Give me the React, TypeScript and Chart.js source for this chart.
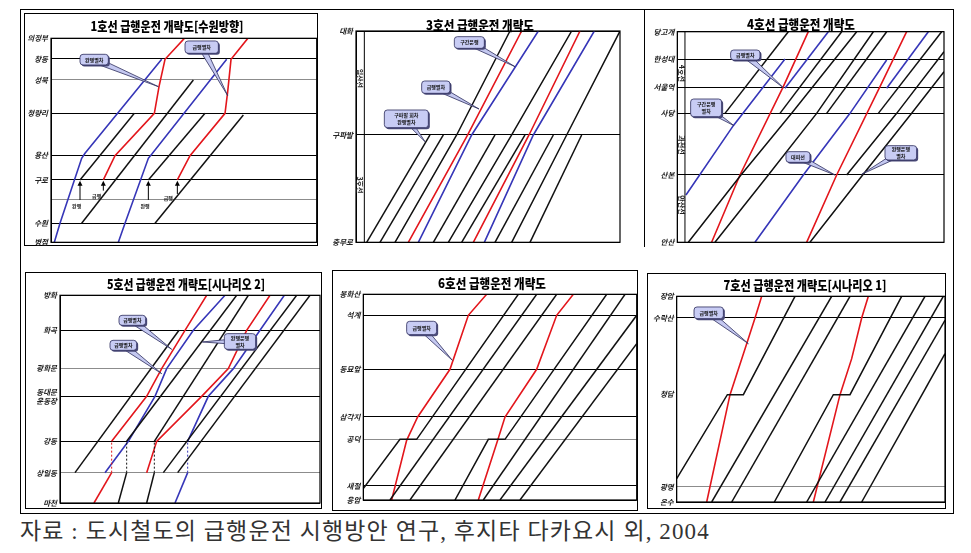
import { useEffect, useRef } from 'react';
import { Chart, registerables } from 'chart.js';
Chart.register(...registerables);

type Pt = [number, number];
const FONT = '"Noto Sans CJK KR", "Noto Sans", sans-serif';
const RED = '#e3161c';
const BLUE = '#3636b8';
const BLACK = '#111111';

// ---------------- 1호선 ----------------
const l1Stations: (string | string[])[] = ['의정부', '창동', '성북', '청량리', '용산', '구로', '', '수원', '병점'];
const l1StationDist = [100, 162, 225, 325, 452, 525, 585, 655, 712];
const l1LineKind = ['k', 'k', 'g', 'k', 'k', 'k', 'g', 'k', 'k'];
const l1Local: Pt[][] = [
  [[195, 525], [358, 325]],
  [[200, 655], [535, 225]],
  [[400, 525], [570, 325]],
  [[420, 655], [685, 330]],
];
const l1Through: Pt[][] = [
  [[118, 712], [135, 655], [200, 460], [210, 445], [440, 163]],
  [[310, 712], [330, 655], [400, 460], [410, 448], [635, 163]],
];
const l1Express: Pt[][] = [
  [[265, 525], [300, 452], [418, 325], [432, 245], [450, 163], [510, 98]],
  [[487, 525], [525, 452], [630, 325], [638, 260], [648, 163], [700, 98]],
];

// ---------------- 3호선 ----------------
const l3Stations: (string | string[])[] = ['대화', '구파발', '충무로'];
const l3StationDist = [78, 390, 712];
const l3LineKind = ['k', 'k', 'k'];
const l3Local: Pt[][] = [
  [[125, 712], [315, 390]],
  [[165, 712], [355, 390]],
  [[210, 712], [395, 390], [555, 78]],
  [[325, 712], [510, 390]],
  [[370, 712], [560, 390], [740, 78]],
  [[410, 712], [600, 390]],
  [[510, 712], [685, 390]],
  [[560, 712], [725, 390], [885, 78]],
  [[615, 712], [770, 390]],
];
const l3Section: Pt[][] = [
  [[280, 712], [440, 390], [640, 78]],
  [[478, 712], [625, 390], [808, 78]],
];
const l3Express: Pt[][] = [
  [[250, 712], [428, 390], [590, 78]],
  [[445, 712], [612, 390], [765, 78]],
];

// ---------------- 4호선 ----------------
const l4Stations: (string | string[])[] = ['당고개', '한성대', '서울역', '사당', '산본', '안산'];
const l4StationDist = [80, 162, 247, 325, 510, 712];
const l4LineKind = ['k', 'k', 'k', 'k', 'k', 'k'];
const l4Local: Pt[][] = [
  [[145, 712], [303, 510], [455, 325], [650, 80]],
  [[225, 712], [385, 510], [530, 325], [700, 80]],
  [[510, 712], [668, 510], [815, 325], [912, 200]],
  [[620, 510], [770, 325], [912, 140]],
  [[255, 325], [445, 80]],
  [[420, 325], [605, 80]],
  [[560, 325], [740, 80]],
  [[715, 325], [905, 80]],
];
const l4Section: Pt[][] = [
  [[138, 570], [280, 362], [435, 162]],
  [[435, 250], [565, 80]],
  [[345, 712], [490, 510], [630, 325], [740, 165]],
  [[740, 250], [865, 80]],
];
const l4Express: Pt[][] = [
  [[215, 712], [300, 510], [430, 245], [505, 80]],
  [[500, 712], [590, 510], [720, 245], [800, 80]],
];

// ---------------- 5호선 ----------------
const l5Stations: (string | string[])[] = ['방화', '화곡', '광화문', ['동대문', '운동장'], '강동', '상일동', '마천'];
const l5StationDist = [100, 205, 320, 403, 538, 632, 723];
const l5LineKind = ['k', 'k', 'g', 'k', 'k', 'g', 'k'];
const l5Local: Pt[][] = [
  [[180, 632], [492, 205]],
  [[310, 723], [335, 632], [335, 538], [665, 100]],
  [[395, 723], [418, 632], [418, 538], [700, 100]],
  [[445, 632], [845, 100]],
  [[488, 632], [885, 100]],
];
const l5Semi: Pt[][] = [
  [[270, 632], [340, 538], [420, 403], [455, 320], [535, 205], [630, 100]],
  [[480, 723], [518, 632], [518, 538], [580, 403], [655, 320], [735, 205], [808, 100]],
];
const l5Express: Pt[][] = [
  [[237, 723], [290, 632], [290, 538], [395, 403], [440, 320], [510, 205], [575, 100]],
  [[395, 632], [425, 538], [560, 403], [640, 320], [695, 205], [765, 100]],
];

// ---------------- 6호선 ----------------
const l6Stations: (string | string[])[] = ['봉화산', '석계', '동묘앞', '삼각지', '공덕', '새절', '응암'];
const l6StationDist = [97, 160, 322, 465, 532, 672, 714];
const l6LineKind = ['k', 'k', 'k', 'k', 'g', 'k', 'k'];
const l6Local: Pt[][] = [
  [[115, 680], [225, 532], [275, 532], [580, 97]],
  [[195, 714], [635, 97]],
  [[255, 714], [695, 97]],
  [[390, 714], [490, 532], [540, 532], [845, 97]],
  [[475, 714], [900, 97]],
  [[525, 714], [935, 160]],
  [[585, 714], [935, 245]],
];
const l6Express: Pt[][] = [
  [[200, 714], [245, 535], [278, 465], [375, 322], [430, 160], [485, 97]],
  [[460, 714], [518, 535], [540, 465], [635, 322], [695, 160], [745, 97]],
];

// ---------------- 7호선 ----------------
const l7Stations: (string | string[])[] = ['장암', '수락산', '청담', '광명', '온수'];
const l7StationDist = [103, 168, 398, 675, 720];
const l7LineKind = ['k', 'k', 'n', 'g', 'k'];
const l7Local: Pt[][] = [
  [[110, 650], [262, 398], [310, 398], [465, 103]],
  [[215, 720], [575, 103]],
  [[275, 720], [630, 103]],
  [[403, 720], [580, 398], [630, 398], [785, 103]],
  [[500, 720], [855, 103]],
  [[555, 720], [910, 103]],
  [[600, 720], [915, 175]],
  [[665, 720], [915, 275]],
];
const l7Express: Pt[][] = [
  [[200, 720], [270, 398], [320, 245], [345, 168], [365, 103]],
  [[520, 720], [600, 398], [635, 290], [665, 168], [685, 103]],
];

// ---------------- panel setup ----------------
interface Callout { lines: string[]; box: [number, number, number, number]; tip: Pt }
interface PanelCfg {
  box: { x: number; y: number; w: number; h: number };
  plot: { l: number; t: number; r: number; b: number };
  xr: [number, number];
  yr: [number, number];
  names: (string | string[])[];
  pos: number[];
  kinds: string[];
  series: { color: string; pts: Pt[]; w: number }[];
  title: { text: string; x: number; y: number; maxW: number };
  callouts: Callout[];
  vlabels: { text: string; x: number; y: number }[];
  inner?: number;
  arrows: { x: number; from: number; to: number; label: string; lx: number; ly: number }[];
}

const mk = (groups: [Pt[][], string][]) =>
  groups.flatMap(([g, c]) => g.map((pts) => ({ color: c, pts, w: c === BLACK ? 1.5 : 1.6 })));

const panels: PanelCfg[] = [
  {
    box: { x: 25, y: 14, w: 296, h: 243 },
    plot: { l: 51, t: 38.3, r: 316.7, b: 242.3 },
    xr: [108, 905], yr: [100, 712],
    names: l1Stations, pos: l1StationDist, kinds: l1LineKind,
    series: mk([[l1Local, BLACK], [l1Through, BLUE], [l1Express, RED]]),
    title: { text: '1호선 급행운전 개략도[수원방향]', x: 167, y: 26, maxW: 153 },
    callouts: [
      { lines: ['완행열차'], box: [195, 148, 280, 180], tip: [430, 245] },
      { lines: ['급행열차'], box: [510, 108, 610, 145], tip: [638, 272] },
    ],
    vlabels: [],
    arrows: [
      { x: 195, from: 585, to: 527, label: '완행', lx: 185, ly: 603 },
      { x: 265, from: 557, to: 527, label: '급행', lx: 245, ly: 573 },
      { x: 400, from: 585, to: 527, label: '완행', lx: 390, ly: 603 },
      { x: 487, from: 567, to: 527, label: '급행', lx: 460, ly: 580 },
    ],
  },
  {
    box: { x: 326, y: 10, w: 298, h: 246 },
    plot: { l: 356, t: 31, r: 620, b: 242.3 },
    xr: [93, 885], yr: [78, 712],
    names: l3Stations, pos: l3StationDist, kinds: l3LineKind,
    series: mk([[l3Local, BLACK], [l3Express, RED], [l3Section, BLUE]]),
    title: { text: '3호선 급행운전 개략도', x: 480, y: 25, maxW: 108 },
    callouts: [
      { lines: ['구간운행'], box: [388, 95, 478, 130], tip: [570, 185] },
      { lines: ['급행열차'], box: [290, 228, 375, 265], tip: [462, 312] },
      { lines: ['구파발 회차', '완행열차'], box: [178, 315, 310, 368], tip: [300, 410] },
    ],
    vlabels: [
      { text: '일산선', x: 105, y: 220 },
      { text: '3호선', x: 105, y: 540 },
    ],
    inner: 118,
    arrows: [],
  },
  {
    box: { x: 645, y: 10, w: 303, h: 246 },
    plot: { l: 677.3, t: 31.7, r: 944, b: 242.3 },
    xr: [112, 912], yr: [80, 712],
    names: l4Stations, pos: l4StationDist, kinds: l4LineKind,
    series: mk([[l4Local, BLACK], [l4Section, BLUE], [l4Express, RED]]),
    title: { text: '4호선 급행운전 개략도', x: 801, y: 24, maxW: 108 },
    callouts: [
      { lines: ['급행열차'], box: [272, 135, 360, 165], tip: [430, 248] },
      { lines: ['구간운행', '열차'], box: [152, 282, 245, 335], tip: [282, 362] },
      { lines: ['대피선'], box: [438, 440, 510, 472], tip: [585, 510] },
      { lines: ['완행운행', '열차'], box: [735, 422, 830, 465], tip: [665, 508] },
    ],
    vlabels: [
      { text: '4호선', x: 124, y: 205 },
      { text: '과천선', x: 124, y: 420 },
      { text: '안산선', x: 124, y: 600 },
    ],
    inner: 135,
    arrows: [],
  },
  {
    box: { x: 26, y: 273, w: 298, h: 244 },
    plot: { l: 60, t: 295.3, r: 320, b: 503 },
    xr: [135, 915], yr: [100, 723],
    names: l5Stations, pos: l5StationDist, kinds: l5LineKind,
    series: mk([[l5Local, BLACK], [l5Express, RED], [l5Semi, BLUE]]),
    title: { text: '5호선 급행운전 개략도[시나리오 2]', x: 186, y: 284, maxW: 158 },
    callouts: [
      { lines: ['급행열차'], box: [312, 160, 392, 190], tip: [470, 262] },
      { lines: ['급행열차'], box: [285, 235, 365, 265], tip: [440, 335] },
      { lines: ['완행운행', '열차'], box: [628, 215, 722, 262], tip: [562, 240] },
    ],
    vlabels: [],
    arrows: [],
  },
  {
    box: { x: 333, y: 271, w: 308, h: 243 },
    plot: { l: 363.3, t: 294.3, r: 636.7, b: 500 },
    xr: [115, 935], yr: [97, 714],
    names: l6Stations, pos: l6StationDist, kinds: l6LineKind,
    series: mk([[l6Local, BLACK], [l6Express, RED]]),
    title: { text: '6호선 급행운전 개략도', x: 492, y: 283, maxW: 108 },
    callouts: [{ lines: ['급행열차'], box: [245, 178, 335, 218], tip: [382, 295] }],
    vlabels: [],
    arrows: [],
  },
  {
    box: { x: 648, y: 274, w: 301, h: 242 },
    plot: { l: 676.7, t: 296.3, r: 945, b: 502 },
    xr: [110, 915], yr: [103, 720],
    names: l7Stations, pos: l7StationDist, kinds: l7LineKind,
    series: mk([[l7Local, BLACK], [l7Express, RED]]),
    title: { text: '7호선 급행운전 개략도[시나리오 1]', x: 805, y: 285, maxW: 163 },
    callouts: [{ lines: ['급행열차'], box: [162, 135, 250, 170], tip: [325, 245] }],
    vlabels: [],
    arrows: [],
  },
];

const gridColor = (k: string) => (k === 'g' ? '#8c8c8c' : k === 'n' ? 'rgba(0,0,0,0)' : '#000000');

const decor = (cfg: PanelCfg) => ({
  id: 'decor',
  afterDraw(chart: any) {
    const ctx = chart.ctx as CanvasRenderingContext2D;
    const a = chart.chartArea;
    const X = (v: number) => chart.scales.x.getPixelForValue(v);
    const Y = (v: number) => chart.scales.y.getPixelForValue(v);
    ctx.save();
    ctx.strokeStyle = '#000';
    ctx.lineWidth = 1.2;
    ctx.strokeRect(a.left, a.top, a.right - a.left, a.bottom - a.top);
    if (cfg.inner !== undefined) {
      ctx.beginPath();
      ctx.lineWidth = 1;
      ctx.moveTo(X(cfg.inner), a.top);
      ctx.lineTo(X(cfg.inner), a.bottom);
      ctx.stroke();
    }
    ctx.fillStyle = '#222';
    ctx.font = `bold 7px ${FONT}`;
    ctx.textAlign = 'center';
    ctx.textBaseline = 'middle';
    for (const v of cfg.vlabels) {
      ctx.save();
      ctx.translate(X(v.x), Y(v.y));
      ctx.rotate(Math.PI / 2);
      ctx.fillText(v.text, 0, 0);
      ctx.restore();
    }
    for (const ar of cfg.arrows) {
      const x = X(ar.x);
      const y0 = Y(ar.from);
      const y1 = Y(ar.to);
      ctx.beginPath();
      ctx.strokeStyle = '#000';
      ctx.lineWidth = 1;
      ctx.moveTo(x, y0);
      ctx.lineTo(x, y1 + 4);
      ctx.stroke();
      ctx.beginPath();
      ctx.moveTo(x, y1);
      ctx.lineTo(x - 2.5, y1 + 5);
      ctx.lineTo(x + 2.5, y1 + 5);
      ctx.closePath();
      ctx.fillStyle = '#000';
      ctx.fill();
      ctx.font = `bold 5px ${FONT}`;
      ctx.fillStyle = '#222';
      ctx.fillText(ar.label, X(ar.lx), Y(ar.ly));
    }
    for (const c of cfg.callouts) {
      const L = X(c.box[0]);
      const T = Y(c.box[1]);
      const R = X(c.box[2]);
      const B = Y(c.box[3]);
      const cx = (L + R) / 2;
      const cy = (T + B) / 2;
      const tx = X(c.tip[0]);
      const ty = Y(c.tip[1]);
      let dx = tx - cx;
      let dy = ty - cy;
      const d = Math.hypot(dx, dy) || 1;
      dx /= d;
      dy /= d;
      const w = 3.2;
      ctx.beginPath();
      ctx.moveTo(cx - dy * w, cy + dx * w);
      ctx.lineTo(tx, ty);
      ctx.lineTo(cx + dy * w, cy - dx * w);
      ctx.closePath();
      ctx.fillStyle = '#c4c8f0';
      ctx.fill();
      ctx.strokeStyle = '#2c2c5c';
      ctx.lineWidth = 0.8;
      ctx.stroke();
      ctx.beginPath();
      ctx.roundRect(L + 1.5, T + 1.5, R - L, B - T, 3);
      ctx.fillStyle = '#4a4a78';
      ctx.fill();
      ctx.beginPath();
      ctx.roundRect(L, T, R - L, B - T, 3);
      ctx.fillStyle = '#c8ccf4';
      ctx.fill();
      ctx.stroke();
      ctx.fillStyle = '#111';
      ctx.font = `bold 5px ${FONT}`;
      const n = c.lines.length;
      c.lines.forEach((t, i) => ctx.fillText(t, cx, cy + (i - (n - 1) / 2) * 6.5));
    }
    ctx.fillStyle = '#000';
    ctx.font = `900 13px ${FONT}`;
    ctx.fillText(cfg.title.text, cfg.title.x - cfg.box.x, cfg.title.y - cfg.box.y, cfg.title.maxW);
    ctx.restore();
  },
});

function build(canvas: HTMLCanvasElement, cfg: PanelCfg) {
  const { box, plot } = cfg;
  const axisW = plot.l - box.x;
  return new Chart(canvas, {
    type: 'line',
    data: {
      datasets: cfg.series.map((s) => ({
        data: s.pts.map(([x, y]) => ({ x, y })),
        borderColor: s.color,
        borderWidth: s.w,
        pointRadius: 0,
        fill: false,
        tension: 0,
        segment: {
          borderDash: (c: any) => (c.p0.parsed.x === c.p1.parsed.x ? [2, 2] : undefined),
          borderWidth: (c: any) => (c.p0.parsed.x === c.p1.parsed.x ? 1 : undefined),
        },
      })),
    },
    options: {
      animation: false,
      responsive: false,
      maintainAspectRatio: false,
      events: [],
      layout: {
        padding: {
          left: 0,
          top: plot.t - box.y,
          right: box.x + box.w - plot.r,
          bottom: box.y + box.h - plot.b,
        },
      },
      plugins: { legend: { display: false }, tooltip: { enabled: false }, title: { display: false } },
      scales: {
        x: { type: 'linear', display: false, min: cfg.xr[0], max: cfg.xr[1] },
        y: {
          type: 'linear',
          min: cfg.yr[0],
          max: cfg.yr[1],
          reverse: true,
          afterBuildTicks: (ax: any) => {
            ax.ticks = cfg.pos.map((v) => ({ value: v }));
          },
          afterFit: (ax: any) => {
            ax.width = axisW;
          },
          ticks: {
            autoSkip: false,
            padding: 3,
            color: '#222',
            font: { family: FONT, size: 7.5, weight: 'bold', style: 'italic' },
            callback: (_v: any, i: number) => cfg.names[i],
          },
          grid: {
            drawTicks: false,
            lineWidth: 1,
            color: (c: any) => gridColor(cfg.kinds[c.index] ?? 'k'),
          },
          border: { display: true, color: '#000', width: 1 },
        },
      },
    } as any,
    plugins: [decor(cfg)],
  });
}

function Panel({ cfg }: { cfg: PanelCfg }) {
  const ref = useRef<HTMLCanvasElement>(null);
  useEffect(() => {
    const chart = build(ref.current!, cfg);
    return () => chart.destroy();
  }, [cfg]);
  return (
    <canvas
      ref={ref}
      width={cfg.box.w}
      height={cfg.box.h}
      style={{ position: 'absolute', left: cfg.box.x, top: cfg.box.y, width: cfg.box.w, height: cfg.box.h }}
    />
  );
}

const frames = [
  { x: 20, y: 9, w: 934, h: 505, b: 1.5 },
  { x: 24, y: 13, w: 294, h: 233, b: 1 },
  { x: 25, y: 272, w: 297, h: 237, b: 1 },
  { x: 332, y: 270, w: 306, h: 241, b: 1 },
  { x: 647, y: 273, w: 299, h: 236, b: 1 },
];

export default function App() {
  return (
    <div style={{ position: 'absolute', left: 0, top: 0, width: 971, height: 553, background: '#fff', overflow: 'hidden' }}>
      {frames.map((f, i) => (
        <div
          key={i}
          style={{
            position: 'absolute',
            left: f.x,
            top: f.y,
            width: f.w,
            height: f.h,
            border: `${f.b}px solid #000`,
            boxSizing: 'border-box',
          }}
        />
      ))}
      <div style={{ position: 'absolute', left: 644, top: 9, width: 1, height: 238, background: '#000' }} />
      {panels.map((p, i) => (
        <Panel key={i} cfg={p} />
      ))}
      <div
        style={{
          position: 'absolute',
          left: 20,
          top: 519,
          fontSize: 23,
          lineHeight: '26px',
          letterSpacing: '1.1px',
          whiteSpace: 'nowrap',
          color: '#333',
          fontFamily: '"Liberation Serif", "Noto Sans CJK KR", serif',
        }}
      >
        자료 : 도시철도의 급행운전 시행방안 연구, 후지타 다카요시 외, 2004
      </div>
    </div>
  );
}
